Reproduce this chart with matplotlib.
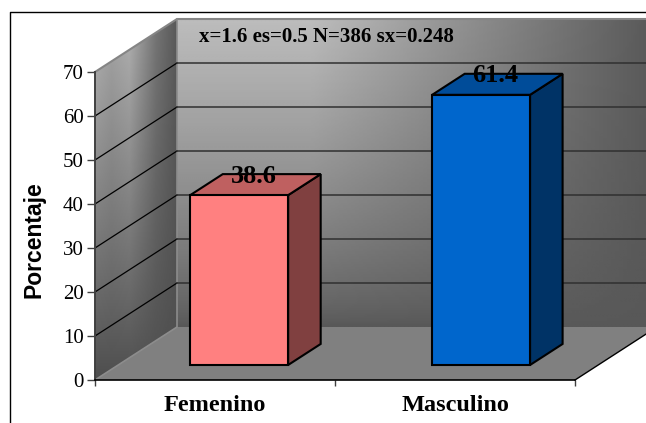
import numpy as np
import matplotlib
matplotlib.use('Agg')
import matplotlib.pyplot as plt
from matplotlib.patches import Polygon
from matplotlib.lines import Line2D

categorias = ['Femenino', 'Masculino']
porcentajes = [38.6, 61.4]
colores_frente = ['#ff8080', '#0066cc']
colores_arriba = ['#bf6060', '#004c99']
colores_lado = ['#804040', '#003366']
y_ticks = [0, 10, 20, 30, 40, 50, 60, 70]
nota = 'x=1.6 es=0.5 N=386 sx=0.248'

W, H = 646, 423
fig = plt.figure(figsize=(W / 100, H / 100), dpi=100, facecolor='white')
# axes = the front plane of the 3d box, in pixels of the reference
ax = fig.add_axes([95 / W, 1 - 380 / H, 480 / W, 308 / H])
ax.set_xlim(-0.5, 1.5)
ax.set_ylim(0, 70)
ax.patch.set_alpha(0)

DX = 82 / 240   # depth offset in x units
DY = 53 / 4.4   # depth offset in y units


def pr(x, y, d=0.0):
    return (x + d * DX, y + d * DY)


def poly(puntos, **kw):
    p = Polygon(puntos, closed=True, clip_on=False, **kw)
    ax.add_patch(p)
    return p


def con_gradiente(esquinas, arr):
    # gradient picture clipped to a wall
    xs = [c[0] for c in esquinas]
    ys = [c[1] for c in esquinas]
    im = ax.imshow(arr, cmap='gray', vmin=0, vmax=255, aspect='auto', origin='upper',
                   extent=(min(xs), max(xs), min(ys), max(ys)), zorder=1, interpolation='bilinear')
    im.set_clip_box(fig.bbox)
    im.set_clip_path(Polygon(esquinas, closed=True, transform=ax.transData))


# back wall
u, t = np.meshgrid(np.linspace(0, 1, 120), np.linspace(0, 1, 120))
g = np.clip((1 - u) / 0.72, 0, 1)
fondo = 88 + 100 * g * (1 - t) ** 0.75
con_gradiente([pr(-0.5, 0, 1), pr(1.5, 0, 1), pr(1.5, 70, 1), pr(-0.5, 70, 1)], fondo)

# left wall
banda = np.interp(u, [0, 0.2, 0.42, 0.75, 1], [0.92, 0.8, 0.9, 0.35, 0.1])
pared = 78 + 110 * banda * (1 - t) ** 0.9
con_gradiente([pr(-0.5, 0, 0), pr(-0.5, 0, 1), pr(-0.5, 70, 1), pr(-0.5, 70, 0)], pared)
ax.set_xlim(-0.5, 1.5)
ax.set_ylim(0, 70)

# floor
poly([pr(-0.5, 0, 0), pr(1.5, 0, 0), pr(1.5, 0, 1), pr(-0.5, 0, 1)], fc='#808080', ec='none', zorder=2)
ax.plot(*zip(pr(1.5, 0, 0), pr(1.5, 0, 1)), color='black', lw=1, zorder=3, clip_on=False)

# edges of the walls
ax.plot(*zip(pr(-0.5, 70, 0), pr(-0.5, 70, 1), pr(1.5, 70, 1)), color='#858585', lw=1.5, zorder=3, clip_on=False)
ax.plot(*zip(pr(-0.5, 70, 1), pr(-0.5, 0, 1), pr(-0.5, 0, 0)), color='#8c8c8c', lw=1.2, zorder=3, clip_on=False)

# gridlines
for v in y_ticks[1:-1]:
    ax.plot(*zip(pr(-0.5, v, 0), pr(-0.5, v, 1)), color='black', lw=0.9, zorder=3, clip_on=False)
    ax.plot(*zip(pr(-0.5, v, 1), pr(1.5, v, 1)), color='#303030', lw=1.1, zorder=3, clip_on=False)

# bars
ancho = 0.204
d0, d1 = 0.283, 0.68
ajuste = [0.004, 0.012]  # bars sit a touch right of the category centre
for i, val in enumerate(porcentajes):
    x0, x1 = i + ajuste[i] - ancho, i + ajuste[i] + ancho
    borde = dict(ec='black', lw=1.5, zorder=5, joinstyle='miter')
    poly([pr(x1, 0, d0), pr(x1, 0, d1), pr(x1, val, d1), pr(x1, val, d0)], fc=colores_lado[i], **borde)
    poly([pr(x0, val, d0), pr(x1, val, d0), pr(x1, val, d1), pr(x0, val, d1)], fc=colores_arriba[i], **borde)
    poly([pr(x0, 0, d0), pr(x1, 0, d0), pr(x1, val, d0), pr(x0, val, d0)], fc=colores_frente[i], **borde)
    ax.annotate(f'{val}', pr(i + ajuste[i], val, 0.46), xytext=(0, 7), textcoords='offset points', ha='center',
                va='center', family='Liberation Serif', fontweight='bold', fontsize=19, color='black', zorder=6,
                annotation_clip=False)

# axes
for lado in ['top', 'right']:
    ax.spines[lado].set_visible(False)
ax.spines['left'].set_color('#404040')
ax.spines['left'].set_linewidth(1.4)
ax.spines['bottom'].set_color('black')
ax.spines['bottom'].set_linewidth(1.2)
for s in ax.spines.values():
    s.set_zorder(4)

ax.set_yticks(y_ticks)
ax.set_yticklabels([str(v) for v in y_ticks], family='Liberation Serif', fontsize=15)
ax.tick_params(axis='y', length=6, width=1, color='#404040', pad=2)
ax.set_xticks([-0.5, 0.5, 1.5])
ax.set_xticklabels([])
ax.tick_params(axis='x', length=4.5, width=1, color='#404040')
for i, c in enumerate(categorias):
    ax.annotate(c, (i, 0), xytext=(0, -18.5), textcoords='offset points', ha='center', va='center',
                family='Liberation Serif', fontweight='bold', fontsize=17.5, annotation_clip=False)

fig.text(34 / W, 1 - 240 / H, 'Porcentaje', rotation=90, ha='center', va='center',
         family='Liberation Sans', fontweight='bold', fontsize=16.5)
fig.text(199 / W, 1 - 37 / H, nota, ha='left', va='center', family='Liberation Serif',
         fontweight='bold', fontsize=15, zorder=7)

# outer frame
fig.add_artist(Line2D([10 / W, 10 / W, 1], [0, 1 - 12.5 / H, 1 - 12.5 / H], color='black', lw=1))

fig.savefig('out.png', dpi=100)
